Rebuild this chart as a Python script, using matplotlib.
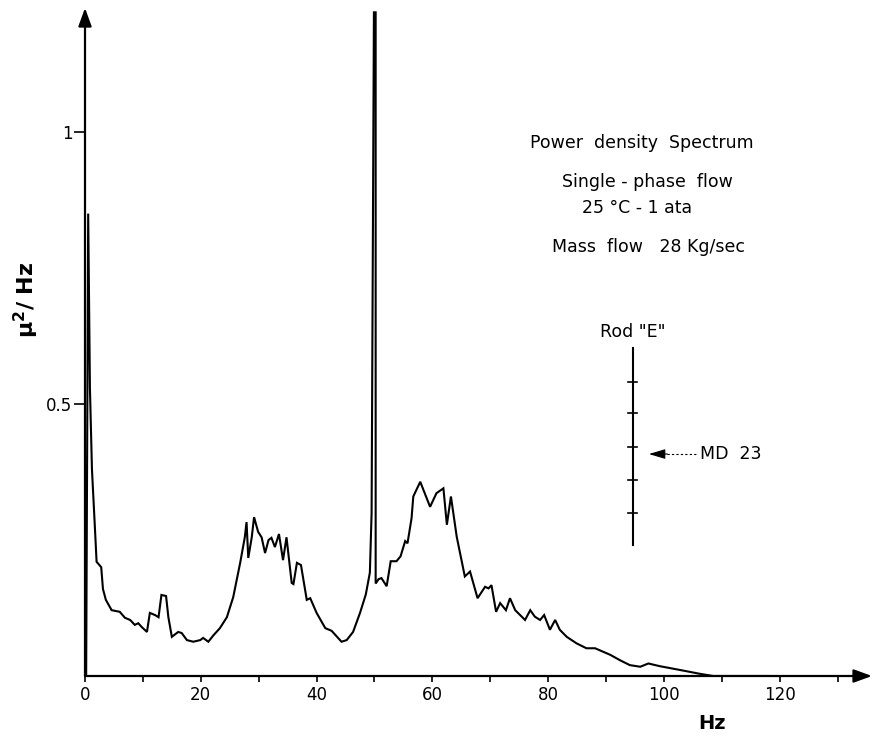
import matplotlib
matplotlib.use("Agg")
import matplotlib.pyplot as plt

# power density spectrum
freq = [0.2, 0.55, 0.85, 1.2, 1.7, 2.0, 2.8, 3.1, 3.6, 4.6, 6.0, 6.9, 7.8, 8.6, 9.2,
        9.8, 10.7, 11.2, 12.1, 12.7, 13.2, 14.0, 14.4, 15.0, 16.1, 16.7, 17.6, 18.7,
        19.9, 20.4, 21.3, 22.2, 23.3, 24.5, 25.6, 26.8, 27.6, 27.9, 28.2, 28.8, 29.2,
        29.9, 30.5, 31.1, 31.7, 32.2, 32.8, 33.5, 34.2, 34.8, 35.7, 36.0, 36.6, 37.3,
        38.3, 38.9, 40.0, 41.5, 42.6, 44.3, 45.2, 46.3, 47.5, 48.5, 49.2, 49.5, 49.9,
        50.2, 50.2, 50.7, 51.2, 52.1, 52.8, 53.8, 54.5, 55.3, 55.7, 56.4, 56.7, 57.9,
        59.6, 60.7, 61.9, 62.5, 63.2, 64.2, 65.6, 66.5, 67.8, 69.1, 69.7, 70.2, 71.0,
        71.7, 72.7, 73.4, 74.3, 76.0, 76.9, 77.7, 78.6, 79.3, 80.3, 81.2, 82.0, 83.2,
        84.9, 86.6, 88.1, 90.7, 92.4, 94.1, 95.9, 97.3, 99.3, 102.8, 106.2, 108.5, 118.0]
psd = [0.0, 0.85, 0.53, 0.38, 0.275, 0.21, 0.2, 0.16, 0.14, 0.121, 0.118, 0.107, 0.103,
       0.094, 0.097, 0.09, 0.081, 0.116, 0.112, 0.108, 0.149, 0.147, 0.108, 0.072, 0.081,
       0.079, 0.066, 0.063, 0.066, 0.07, 0.063, 0.075, 0.088, 0.108, 0.145, 0.208, 0.255,
       0.283, 0.217, 0.255, 0.292, 0.265, 0.255, 0.226, 0.25, 0.254, 0.237, 0.261, 0.213,
       0.255, 0.171, 0.169, 0.208, 0.204, 0.14, 0.143, 0.116, 0.088, 0.083, 0.063, 0.066,
       0.081, 0.116, 0.15, 0.19, 0.3, 1.22, 1.22, 0.17, 0.178, 0.18, 0.165, 0.211, 0.211,
       0.22, 0.248, 0.244, 0.29, 0.33, 0.357, 0.311, 0.336, 0.345, 0.278, 0.33, 0.256,
       0.183, 0.192, 0.143, 0.164, 0.161, 0.167, 0.118, 0.134, 0.121, 0.143, 0.121, 0.103,
       0.121, 0.109, 0.103, 0.112, 0.085, 0.103, 0.085, 0.072, 0.06, 0.051, 0.051, 0.039,
       0.029, 0.02, 0.017, 0.023, 0.018, 0.011, 0.004, 0.0, 0.0]

xticks_minor = list(range(10, 140, 10))
xtick_labels = [0, 20, 40, 60, 80, 100, 120]
yticks = [0.5, 1.0]
ytick_labels = ["0.5", "1"]

# rod "E" sketch: measuring stations along the rod
rod_marks = [0.541, 0.483, 0.421, 0.360, 0.300]

plt.rcParams["font.family"] = "DejaVu Sans"

fig = plt.figure(figsize=(8.82, 7.43), dpi=100)
ax = fig.add_axes([85 / 882, 1 - 676 / 743, (872 - 85) / 882, (676 - 8) / 743])
ax.set_xlim(0, 787 / 5.79)
ax.set_ylim(0, 668 / 544)

ax.plot(freq, psd, color="black", lw=1.5, solid_joinstyle="miter")

for s in ax.spines.values():
    s.set_visible(False)

# arrowed axes
arr = dict(arrowstyle="-|>,head_length=1.1,head_width=0.4", color="black", lw=1.6,
           shrinkA=0, shrinkB=0)
ax.annotate("", xy=(1.0, 0), xytext=(0, 0), xycoords="axes fraction", arrowprops=arr)
ax.annotate("", xy=(0, 1.0), xytext=(0, 0), xycoords="axes fraction", arrowprops=arr)

ax.set_xticks(xticks_minor, minor=True)
ax.set_xticks(xtick_labels)
ax.set_xticklabels([str(v) for v in xtick_labels], fontsize=12)
ax.tick_params(axis="x", which="both", direction="out", length=4, width=1.2, pad=3)
ax.set_yticks(yticks)
ax.set_yticklabels(ytick_labels, fontsize=12)
ax.tick_params(axis="y", direction="out", length=8, width=1.2, pad=1)

ax.set_xlabel("Hz", fontsize=14, fontweight="bold")
ax.xaxis.set_label_coords((712 - 85) / 787, -38 / 668)
ax.set_ylabel(r"$\mathbf{\mu^2}$/ Hz", fontsize=16, fontweight="bold")
ax.yaxis.set_label_coords(-44 / 787, (676 - 300) / 668)

# annotations
fs = 12.5
ax.text(96.2, 0.98, "Power  density  Spectrum", ha="center", va="center", fontsize=fs)
ax.text(97.1, 0.908, "Single - phase  flow", ha="center", va="center", fontsize=fs)
ax.text(85.8, 0.86, "25 °C - 1 ata", ha="left", va="center", fontsize=fs)
ax.text(97.4, 0.789, "Mass  flow   28 Kg/sec", ha="center", va="center", fontsize=fs)

ax.plot([94.6, 94.6], [0.241, 0.603], color="black", lw=1.5)
for m in rod_marks:
    ax.plot([93.8, 95.4], [m, m], color="black", lw=1.2)
ax.text(94.6, 0.632, 'Rod "E"', ha="center", va="center", fontsize=fs)
ax.plot([100.5, 105.5], [0.408, 0.408], color="black", lw=0.8, ls=(0, (2, 2)))
ax.annotate("", xy=(97.4, 0.408), xytext=(100.6, 0.408),
            arrowprops=dict(arrowstyle="-|>,head_length=1.0,head_width=0.3",
                            color="black", lw=0.8, shrinkA=0, shrinkB=0))
ax.text(106.2, 0.408, "MD  23", ha="left", va="center", fontsize=fs)

fig.savefig("out.png", dpi=100)
